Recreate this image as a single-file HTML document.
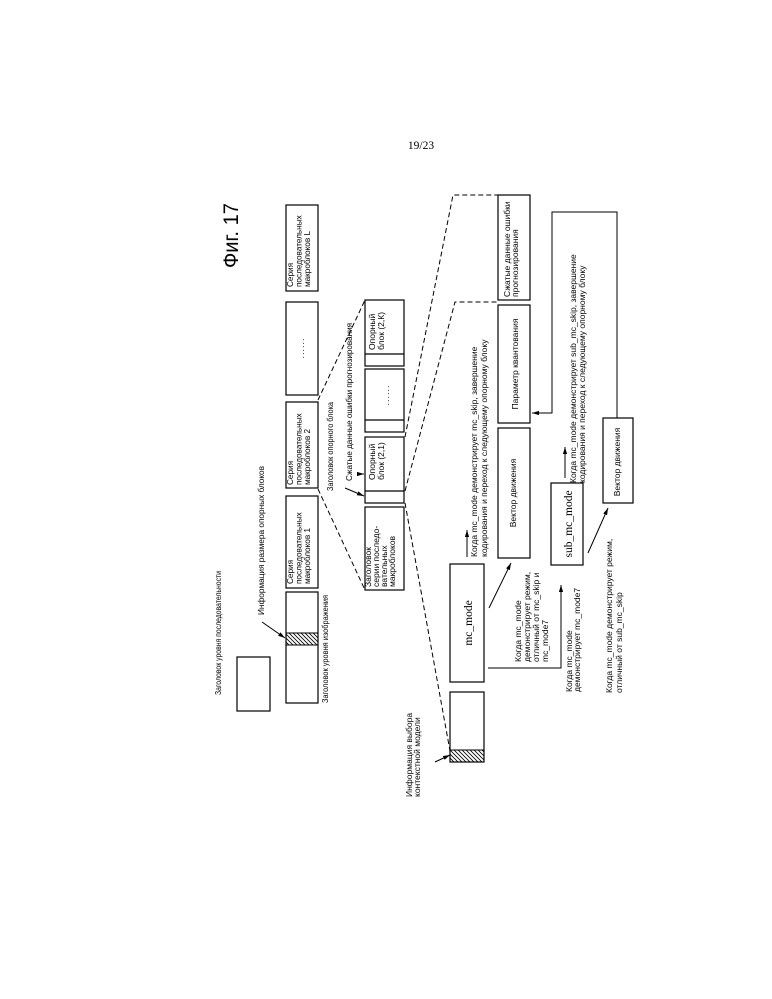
<!DOCTYPE html>
<html><head><meta charset="utf-8"><style>
html,body{margin:0;padding:0;background:#fff;}
svg{display:block;}
text{font-family:"Liberation Sans","DejaVu Sans",sans-serif;fill:#000;}
.s{font-family:"Liberation Serif","DejaVu Serif",serif;}
</style></head><body>
<svg width="772" height="999" viewBox="0 0 772 999" xmlns="http://www.w3.org/2000/svg">
<defs>
<marker id="ah" viewBox="0 0 10 6" refX="10" refY="3" markerWidth="7" markerHeight="4.5" orient="auto" markerUnits="userSpaceOnUse"><path d="M0,0 L10,3 L0,6 z" fill="#000"/></marker>
<pattern id="hatch" patternUnits="userSpaceOnUse" width="4" height="4"><path d="M-1,-1 L5,5 M-1,3 L1,5 M3,-1 L5,1" stroke="#000" stroke-width="0.8"/></pattern>
</defs>
<rect width="772" height="999" fill="#fff"/>

<text class="s" x="421" y="149" font-size="11.5" text-anchor="middle">19/23</text>
<text transform="translate(238,268) rotate(-90)" font-size="21" textLength="65" lengthAdjust="spacingAndGlyphs">Фиг. 17</text>

<g fill="none" stroke="#000" stroke-width="1.2">
<!-- row 1 -->
<rect x="237" y="657" width="33" height="54"/>
<rect x="286" y="592" width="32" height="111"/>
<rect x="286" y="496" width="32" height="92"/>
<rect x="286" y="402" width="32" height="86"/>
<rect x="286" y="302" width="32" height="93"/>
<rect x="286" y="205" width="32" height="86"/>
<!-- row 2 -->
<rect x="365" y="300" width="39" height="66"/>
<line x1="365" y1="354" x2="404" y2="354"/>
<rect x="365" y="369" width="39" height="63"/>
<line x1="365" y1="420" x2="404" y2="420"/>
<rect x="365" y="437" width="39" height="66"/>
<line x1="365" y1="491" x2="404" y2="491"/>
<rect x="365" y="507" width="39" height="83"/>
<!-- row 3 -->
<rect x="450" y="692" width="34" height="70"/>
<rect x="450" y="564" width="34" height="118"/>
<rect x="498" y="428" width="32" height="130"/>
<rect x="498" y="305" width="32" height="118"/>
<rect x="498" y="195" width="32" height="105"/>
<!-- row 4 -->
<rect x="551" y="483" width="32" height="82"/>
<rect x="603" y="418" width="30" height="85"/>
</g>

<!-- hatched strips -->
<rect x="286" y="633" width="32" height="12" fill="url(#hatch)" stroke="#000" stroke-width="1"/>
<rect x="450" y="750" width="34" height="12" fill="url(#hatch)" stroke="#000" stroke-width="1"/>

<!-- dashed expansion lines -->
<g fill="none" stroke="#000" stroke-width="1" stroke-dasharray="5,3">
<line x1="318" y1="400" x2="365" y2="300"/>
<line x1="318" y1="489" x2="365" y2="590"/>
<polyline points="405,437 453,195 498,195"/>
<polyline points="405,491 455,302 498,302"/>
<line x1="405" y1="503" x2="450" y2="751"/>
</g>

<!-- arrows and connectors -->
<g fill="none" stroke="#000" stroke-width="1">
<line x1="262" y1="622" x2="285" y2="638" marker-end="url(#ah)"/>
<line x1="357" y1="474" x2="364" y2="474" marker-end="url(#ah)"/>
<line x1="345" y1="488" x2="364" y2="496" marker-end="url(#ah)"/>
<line x1="435" y1="762" x2="450" y2="755" marker-end="url(#ah)"/>
<line x1="467" y1="557" x2="467" y2="530" marker-end="url(#ah)"/>
<line x1="489" y1="608" x2="511" y2="563" marker-end="url(#ah)"/>
<polyline points="488,668 561,668 561,585" marker-end="url(#ah)"/>
<line x1="565" y1="478" x2="565" y2="447" marker-end="url(#ah)"/>
<line x1="588" y1="553" x2="608" y2="508" marker-end="url(#ah)"/>
<polyline points="617,418 617,212 552,212 552,413 532,413" marker-end="url(#ah)"/>
</g>

<!-- row 1 labels -->
<text transform="translate(221,695) rotate(-90)" font-size="8.3" textLength="124" lengthAdjust="spacingAndGlyphs">Заголовок уровня последовательности</text>
<text transform="translate(264,615) rotate(-90)" font-size="8.5" textLength="149" lengthAdjust="spacingAndGlyphs">Информация размера опорных блоков</text>
<text transform="translate(328,703) rotate(-90)" font-size="8" textLength="108" lengthAdjust="spacingAndGlyphs">Заголовок уровня изображения</text>
<text transform="translate(333,491) rotate(-90)" font-size="8" textLength="89" lengthAdjust="spacingAndGlyphs">Заголовок опорного блока</text>

<!-- row 1 box texts -->
<g font-size="8.2">
<text transform="translate(293,584) rotate(-90)">Серия</text>
<text transform="translate(301.5,584) rotate(-90)">последовательных</text>
<text transform="translate(310,584) rotate(-90)">макроблоков 1</text>
<text transform="translate(293,485) rotate(-90)">Серия</text>
<text transform="translate(301.5,485) rotate(-90)">последовательных</text>
<text transform="translate(310,485) rotate(-90)">макроблоков 2</text>
<text transform="translate(293,287) rotate(-90)">Серия</text>
<text transform="translate(301.5,287) rotate(-90)">последовательных</text>
<text transform="translate(310,287) rotate(-90)">макроблоков L</text>
</g>
<text transform="translate(304,348) rotate(-90)" font-size="9" text-anchor="middle" letter-spacing="1">......</text>
<text transform="translate(389,395) rotate(-90)" font-size="9" text-anchor="middle" letter-spacing="1">......</text>

<!-- row 2 texts -->
<text transform="translate(352,481) rotate(-90)" font-size="8.5" textLength="158" lengthAdjust="spacingAndGlyphs">Сжатые данные ошибки прогнозирования</text>
<g font-size="8.5">
<text transform="translate(375,480) rotate(-90)">Опорный</text>
<text transform="translate(384,480) rotate(-90)">блок (2,1)</text>
<text transform="translate(375,350) rotate(-90)">Опорный</text>
<text transform="translate(384,350) rotate(-90)">блок (2,К)</text>
</g>
<g font-size="8.5">
<text transform="translate(371,587) rotate(-90)">Заголовок</text>
<text transform="translate(379,587) rotate(-90)">серии последо-</text>
<text transform="translate(387,587) rotate(-90)">вательных</text>
<text transform="translate(395,587) rotate(-90)">макроблоков</text>
</g>

<!-- row 3 texts -->
<text transform="translate(412,797) rotate(-90)" font-size="8.5">Информация выбора</text>
<text transform="translate(420,797) rotate(-90)" font-size="8.5">контекстной модели</text>
<text class="s" transform="translate(472,623) rotate(-90)" font-size="11.5" text-anchor="middle">mc_mode</text>
<text transform="translate(516,493) rotate(-90)" font-size="8.5" text-anchor="middle">Вектор движения</text>
<text transform="translate(518,364) rotate(-90)" font-size="8.5" text-anchor="middle">Параметр квантования</text>
<text transform="translate(510,297) rotate(-90)" font-size="8.5">Сжатые данные ошибки</text>
<text transform="translate(518,297) rotate(-90)" font-size="8.5">прогнозирования</text>

<g font-size="8.5">
<text transform="translate(477,557) rotate(-90)">Когда mc_mode демонстрирует mc_skip, завершение</text>
<text transform="translate(487,557) rotate(-90)">кодирования и переход к следующему опорному блоку</text>
<text transform="translate(521,662) rotate(-90)">Когда mc_mode</text>
<text transform="translate(530,662) rotate(-90)">демонстрирует режим,</text>
<text transform="translate(539,662) rotate(-90)">отличный от mc_skip и</text>
<text transform="translate(548,662) rotate(-90)">mc_mode7</text>
<text transform="translate(572,692) rotate(-90)">Когда mc_mode</text>
<text transform="translate(580,692) rotate(-90)">демонстрирует mc_mode7</text>
<text transform="translate(576,483) rotate(-90)">Когда mc_mode демонстрирует sub_mc_skip, завершение</text>
<text transform="translate(585,483) rotate(-90)">кодирования и переход к следующему опорному блоку</text>
<text transform="translate(612,693) rotate(-90)">Когда mc_mode демонстрирует режим,</text>
<text transform="translate(622,693) rotate(-90)">отличный от sub_mc_skip</text>
</g>

<!-- row 4 texts -->
<text class="s" transform="translate(572,524) rotate(-90)" font-size="11.5" text-anchor="middle">sub_mc_mode</text>
<text transform="translate(620,462) rotate(-90)" font-size="8.5" text-anchor="middle">Вектор движения</text>
</svg>
</body></html>
